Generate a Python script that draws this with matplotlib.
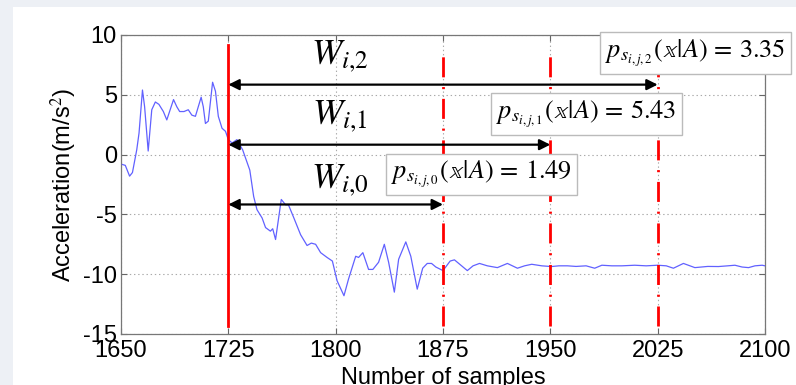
import matplotlib
matplotlib.use("Agg")
import matplotlib.pyplot as plt
from matplotlib.patches import Rectangle

# ---- data ----
samples = [1651, 1653, 1656, 1658, 1661, 1662.6, 1665, 1666.5, 1669, 1671.5, 1674, 1676.5,
           1679.6, 1682, 1686.7, 1689, 1691, 1694, 1697, 1699.5, 1702, 1706, 1707.5, 1709,
           1711, 1714, 1716, 1718, 1720.6, 1723, 1725, 1727.6, 1731, 1735, 1740, 1742.7,
           1745, 1748.6, 1751, 1754.4, 1756, 1758, 1762, 1765, 1767, 1770.8, 1775.5, 1780,
           1783, 1786, 1789.5, 1794, 1797.7, 1801, 1805.8, 1809, 1814, 1816, 1819, 1823,
           1826, 1830, 1834, 1837, 1841, 1844, 1849, 1852.5, 1857, 1860.8, 1864, 1867,
           1870, 1875, 1880, 1883, 1887, 1892, 1896, 1900.5, 1906, 1913, 1920, 1927, 1932,
           1937, 1944, 1950.7, 1956, 1962, 1968, 1975, 1981, 1986, 1993, 2000, 2009, 2017,
           2025, 2031, 2036, 2043, 2051, 2060, 2067.5, 2074, 2079, 2084, 2088.5, 2093,
           2098, 2100]
accel = [-0.83, -0.9, -1.8, -1.5, 0.4, 1.8, 5.4, 4.0, 0.3, 3.75, 4.4, 4.2,
         3.6, 2.9, 4.6, 4.0, 3.6, 3.6, 3.75, 3.3, 3.2, 4.8, 4.0, 2.6,
         2.8, 6.05, 5.3, 3.2, 2.2, 1.95, 1.25, 0.97, 1.25, 0.4, -1.3, -3.5,
         -4.6, -5.3, -6.1, -6.4, -6.2, -7.1, -3.75, -4.2, -4.2, -5.3, -6.7, -7.6,
         -7.4, -7.5, -8.2, -8.6, -8.9, -10.55, -11.8, -10.4, -8.5, -8.6, -8.2, -9.6,
         -9.6, -9.0, -7.5, -9.0, -11.5, -8.75, -7.3, -8.5, -11.25, -9.5, -9.1, -9.1,
         -9.4, -9.7, -8.9, -8.8, -9.2, -9.7, -9.3, -9.1, -9.3, -9.45, -9.1, -9.5, -9.3,
         -9.17, -9.3, -9.36, -9.3, -9.3, -9.35, -9.3, -9.5, -9.25, -9.3, -9.3, -9.25, -9.3,
         -9.25, -9.3, -9.5, -9.1, -9.45, -9.35, -9.36, -9.3, -9.25, -9.4, -9.45, -9.3,
         -9.25, -9.3]

window_start = 1725
window_ends = [1875, 1950, 2025]
window_labels = [r"$\mathit{W_{i{,}0}}$", r"$\mathit{W_{i{,}1}}$", r"$\mathit{W_{i{,}2}}$"]
prob_labels = [r"$p_{s_{i,j,0}}(\mathbb{x}|A)\,=\,1.49$",
               r"$p_{s_{i,j,1}}(\mathbb{x}|A)\,=\,5.43$",
               r"$p_{s_{i,j,2}}(\mathbb{x}|A)\,=\,3.35$"]
arrow_levels = [-4.17, 0.83, 5.85]
wlabel_levels = [-2.1, 3.2, 8.2]
box_pos = [(1902, -1.67), (1975, 3.38), (2051.6, 8.5)]

xticks = [1650, 1725, 1800, 1875, 1950, 2025, 2100]
yticks = [-15, -10, -5, 0, 5, 10]

plt.rcParams["mathtext.fontset"] = "stix"
plt.rcParams["font.family"] = ["Liberation Sans", "DejaVu Sans"]
plt.rcParams["lines.scale_dashes"] = False
plt.rcParams["axes.unicode_minus"] = False

fig = plt.figure(figsize=(7.96, 3.85), dpi=100)
fig.patch.set_facecolor("#edf0f5")
fig.patches.append(Rectangle((13 / 796, 0), 1, (385 - 7) / 385, transform=fig.transFigure,
                             facecolor="white", edgecolor="none", zorder=-10))

ax = fig.add_axes([121 / 796, 51 / 385, 644 / 796, 299 / 385])
ax.set_zorder(5)
ax.set_xlim(1650, 2100)
ax.set_ylim(-15, 10)
ax.set_xticks(xticks)
ax.set_yticks(yticks)
ax.tick_params(direction="in", length=4, width=0.8, color="#666666",
               top=True, right=True, labelsize=17, pad=4)
ax.tick_params(axis="y", pad=3)
for s in ax.spines.values():
    s.set_color("#777777")
    s.set_linewidth(0.9)
ax.grid(True, linestyle=(0, (1, 2)), color="#aaaaaa", linewidth=0.8)
ax.set_axisbelow(True)

ax.plot(samples, accel, color=(0.38, 0.38, 1.0), linewidth=0.9, zorder=3)

# window boundaries
ax.plot([window_start, window_start], [-14.3, 9.2], color="red", linewidth=2.0, zorder=4)
for xe in window_ends:
    ax.plot([xe, xe], [-14.3, 8.8], color="red", linewidth=2.0,
            linestyle=(0, (14.4, 7.0, 1.5, 7.0)), zorder=4)

# arrows and labels
for xe, yl, lab, ylab in zip(window_ends, arrow_levels, window_labels, wlabel_levels):
    ax.annotate("", xy=(xe, yl), xytext=(window_start, yl),
                arrowprops=dict(arrowstyle="<|-|>", color="black", lw=1.6,
                                mutation_scale=16, shrinkA=0, shrinkB=0), zorder=5)
    ax.text(1803, ylab, lab, fontsize=26, ha="center", va="center", zorder=6)

for (bx, by), txt in zip(box_pos, prob_labels):
    ax.text(bx, by, txt, fontsize=19, ha="center", va="center", zorder=7, clip_on=False,
            bbox=dict(boxstyle="square,pad=0.2", facecolor="white", edgecolor="#bbbbbb",
                      linewidth=1.0))

ax.set_ylabel(r"Acceleration(m/s$^2$)", fontsize=17, labelpad=3)
ax.set_xlabel("Number of samples", fontsize=17)
ax.xaxis.set_label_coords(0.5, -0.11)

fig.savefig("out.png", dpi=100, facecolor=fig.get_facecolor())
